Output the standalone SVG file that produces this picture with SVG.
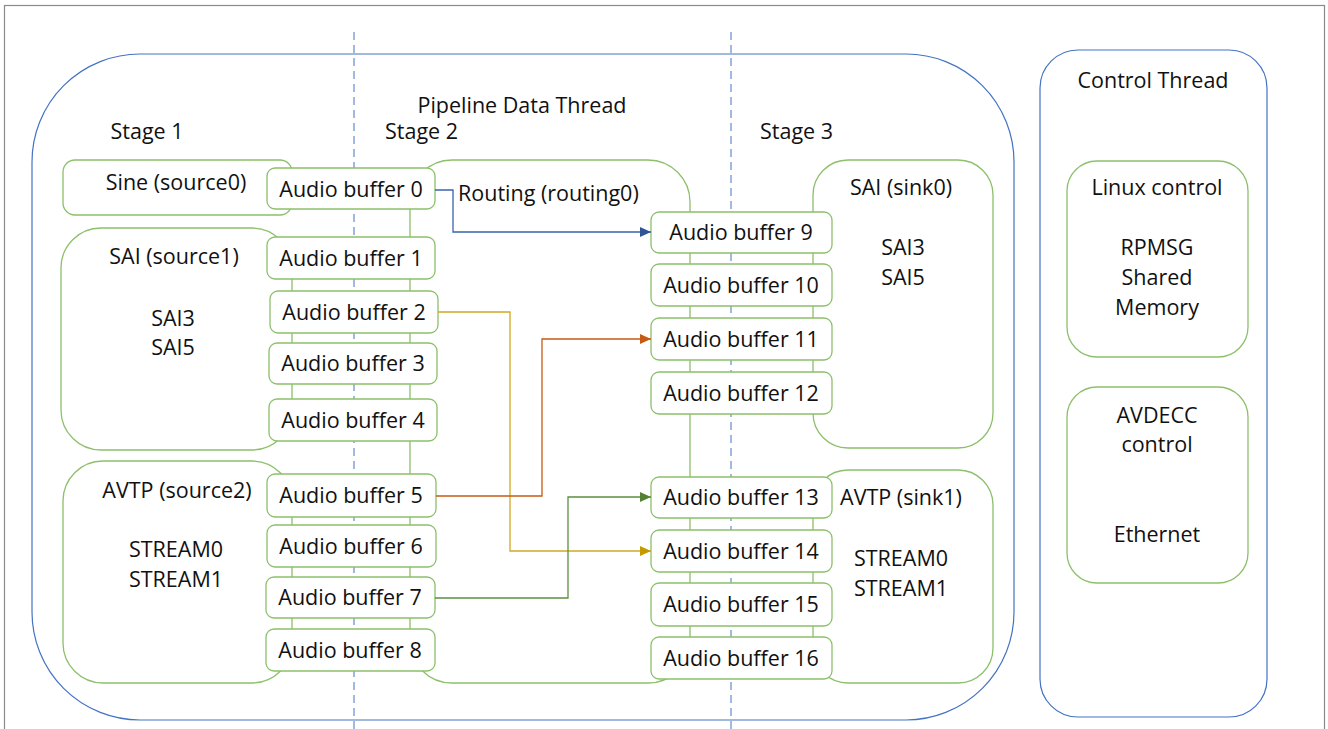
<svg xmlns="http://www.w3.org/2000/svg" width="1328" height="729" viewBox="0 0 1328 729">
<defs>
<style>
text{font-family:"Open Sans","Liberation Sans",sans-serif;font-size:21.5px;fill:#111;}
.c{text-anchor:middle;}
.g{fill:#fff;stroke:#8cc06a;stroke-width:1.3;}
.b{fill:none;stroke:#4472c4;stroke-width:1.2;}
.d{stroke:#4472c4;stroke-width:1;stroke-dasharray:8,5;}
.conn{fill:none;stroke-width:1.3;}
</style>
<marker id="ab" markerUnits="userSpaceOnUse" markerWidth="12" markerHeight="10" refX="11" refY="5" orient="auto"><path d="M0,0 L11,5 L0,10 Z" fill="#2f5597"/></marker>
<marker id="ay" markerUnits="userSpaceOnUse" markerWidth="12" markerHeight="10" refX="11" refY="5" orient="auto"><path d="M0,0 L11,5 L0,10 Z" fill="#c49a00"/></marker>
<marker id="ao" markerUnits="userSpaceOnUse" markerWidth="12" markerHeight="10" refX="11" refY="5" orient="auto"><path d="M0,0 L11,5 L0,10 Z" fill="#c55a11"/></marker>
<marker id="ag" markerUnits="userSpaceOnUse" markerWidth="12" markerHeight="10" refX="11" refY="5" orient="auto"><path d="M0,0 L11,5 L0,10 Z" fill="#548235"/></marker>
</defs>
<rect width="1328" height="729" fill="#fff"/>
<rect x="4.5" y="5.5" width="1320" height="740" fill="none" stroke="#8a8a8a" stroke-width="1.2"/>

<g id="pipeline">
<rect class="b" x="32" y="54" width="982" height="666" rx="108"/>
<text class="c" x="522" y="113">Pipeline Data Thread</text>
</g>
<g id="stage-dividers">
<line class="d" x1="354" y1="32" x2="354" y2="729"/>
<line class="d" x1="731" y1="32" x2="731" y2="729"/>
</g>
<g id="stage-labels">
<text class="c" x="147" y="139">Stage 1</text>
<text x="385" y="139">Stage 2</text>
<text x="760" y="139">Stage 3</text>
</g>

<g id="control-thread">
<rect class="b" x="1040" y="50" width="227" height="667" rx="38"/>
<text class="c" x="1153" y="88">Control Thread</text>
</g>
<g id="linux-control">
<rect class="g" x="1067" y="161" width="181" height="196" rx="30"/>
<text class="c" x="1157" y="195">Linux control</text>
<text class="c" x="1157" y="255">RPMSG</text>
<text class="c" x="1157" y="285">Shared</text>
<text class="c" x="1157" y="315">Memory</text>
</g>
<g id="avdecc-control">
<rect class="g" x="1067" y="387" width="181" height="196" rx="30"/>
<text class="c" x="1157" y="423">AVDECC</text>
<text class="c" x="1157" y="452">control</text>
<text class="c" x="1157" y="542">Ethernet</text>
</g>

<g id="source0">
<rect class="g" x="63" y="160" width="229" height="55" rx="12"/>
<text class="c" x="176" y="190">Sine (source0)</text>
</g>
<g id="source1">
<rect class="g" x="61" y="228" width="231" height="222" rx="40"/>
<text class="c" x="174" y="264">SAI (source1)</text>
<text class="c" x="173" y="326">SAI3</text>
<text class="c" x="173" y="355">SAI5</text>
</g>
<g id="source2">
<rect class="g" x="63" y="461" width="229" height="222" rx="40"/>
<text class="c" x="177" y="498">AVTP (source2)</text>
<text class="c" x="176" y="557">STREAM0</text>
<text class="c" x="176" y="587">STREAM1</text>
</g>
<g id="routing0">
<rect class="g" x="410" y="160" width="280" height="523" rx="42"/>
<text x="458" y="201">Routing (routing0)</text>
</g>
<g id="sink0">
<rect class="g" x="813" y="160" width="180" height="288" rx="35"/>
<text class="c" x="901" y="195">SAI (sink0)</text>
<text class="c" x="903" y="255">SAI3</text>
<text class="c" x="903" y="285">SAI5</text>
</g>
<g id="sink1">
<rect class="g" x="813" y="470" width="180" height="213" rx="35"/>
<text class="c" x="901" y="505">AVTP (sink1)</text>
<text class="c" x="901" y="566">STREAM0</text>
<text class="c" x="901" y="596">STREAM1</text>
</g>

<g id="buf0"><rect class="g" x="267" y="168" width="168" height="41" rx="8"/><text class="c" x="351" y="197">Audio buffer 0</text></g>
<g id="buf1"><rect class="g" x="267" y="237" width="168" height="42" rx="8"/><text class="c" x="351" y="266">Audio buffer 1</text></g>
<g id="buf2"><rect class="g" x="270" y="291" width="168" height="42" rx="8"/><text class="c" x="354" y="320">Audio buffer 2</text></g>
<g id="buf3"><rect class="g" x="269" y="343" width="168" height="41" rx="8"/><text class="c" x="353" y="371">Audio buffer 3</text></g>
<g id="buf4"><rect class="g" x="269" y="399" width="168" height="42" rx="8"/><text class="c" x="353" y="428">Audio buffer 4</text></g>
<g id="buf5"><rect class="g" x="267" y="474" width="169" height="43" rx="8"/><text class="c" x="351" y="503">Audio buffer 5</text></g>
<g id="buf6"><rect class="g" x="267" y="525" width="169" height="42" rx="8"/><text class="c" x="351" y="554">Audio buffer 6</text></g>
<g id="buf7"><rect class="g" x="266" y="577" width="169" height="41" rx="8"/><text class="c" x="350" y="605">Audio buffer 7</text></g>
<g id="buf8"><rect class="g" x="266" y="629" width="169" height="42" rx="8"/><text class="c" x="350" y="658">Audio buffer 8</text></g>

<g id="buf9"><rect class="g" x="651" y="212" width="181" height="41" rx="8"/><text class="c" x="741" y="240">Audio buffer 9</text></g>
<g id="buf10"><rect class="g" x="651" y="264" width="181" height="42" rx="8"/><text class="c" x="741" y="293">Audio buffer 10</text></g>
<g id="buf11"><rect class="g" x="651" y="318" width="181" height="42" rx="8"/><text class="c" x="741" y="347">Audio buffer 11</text></g>
<g id="buf12"><rect class="g" x="651" y="372" width="181" height="42" rx="8"/><text class="c" x="741" y="401">Audio buffer 12</text></g>
<g id="buf13"><rect class="g" x="651" y="477" width="181" height="41" rx="8"/><text class="c" x="741" y="505">Audio buffer 13</text></g>
<g id="buf14"><rect class="g" x="651" y="530" width="181" height="42" rx="8"/><text class="c" x="741" y="559">Audio buffer 14</text></g>
<g id="buf15"><rect class="g" x="651" y="583" width="181" height="43" rx="8"/><text class="c" x="741" y="612">Audio buffer 15</text></g>
<g id="buf16"><rect class="g" x="651" y="637" width="181" height="42" rx="8"/><text class="c" x="741" y="666">Audio buffer 16</text></g>

<g id="connectors">
<path class="conn" d="M435,190 H453 V232 H651" stroke="#3a62ad" marker-end="url(#ab)"/>
<path class="conn" d="M438,312 H510 V551 H651" stroke="#d2a820" marker-end="url(#ay)"/>
<path class="conn" d="M436,496 H542 V339 H651" stroke="#c55a11" marker-end="url(#ao)"/>
<path class="conn" d="M435,598 H568 V497 H651" stroke="#5e8f3e" marker-end="url(#ag)"/>
</g>
</svg>
